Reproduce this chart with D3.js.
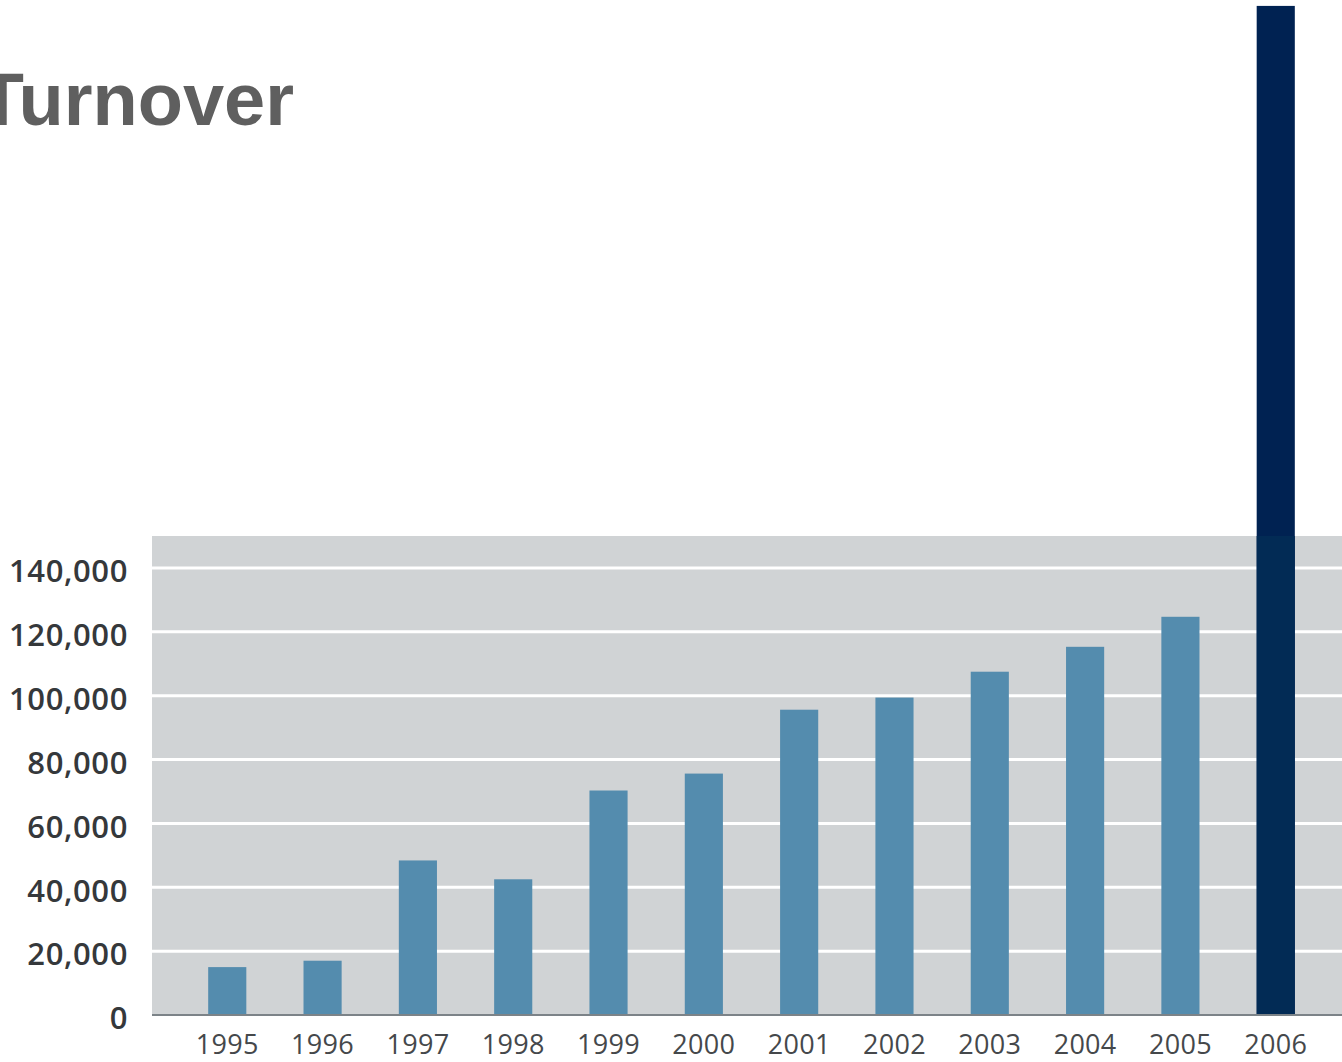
<!DOCTYPE html>
<html>
<head>
<meta charset="utf-8">
<script src="https://cdn.jsdelivr.net/npm/d3@7"></script>
<style>
  body { margin: 0; background: #fff; }
</style>
</head>
<body>
<div id="chart"></div>
<script>
const years = ['1995', '1996', '1997', '1998', '1999', '2000', '2001', '2002', '2003', '2004', '2005', '2006'];
const turnover = [15000, 17000, 48400, 42500, 70300, 75600, 95600, 99400, 107500, 115300, 124700, 316000];
const yTicks = [0, 20000, 40000, 60000, 80000, 100000, 120000, 140000];
const title = 'Turnover';

const w = 1342,
    h = 1062,
    plotLeft = 152,
    plotRight = w,
    plotTop = 536,
    plotBottom = 1015,
    bgcolor = '#d0d3d5',
    barcolor = '#548cae',
    highlight = '#002252';

const svg = d3.select('#chart').append('svg')
    .attr('width', w)
    .attr('height', h)
    .style('display', 'block');

const x = d3.scaleBand()
    .domain(years)
    .range([151, 1352])
    .paddingInner(0.6)
    .paddingOuter(0.6);

const y = d3.scaleLinear()
    .domain([0, 150000])
    .range([plotBottom, plotTop]);

// grey plot area
svg.append('rect')
    .attr('x', plotLeft)
    .attr('y', plotTop)
    .attr('width', plotRight - plotLeft)
    .attr('height', plotBottom - plotTop)
    .attr('fill', bgcolor);

// white gridlines
svg.append('g')
    .selectAll('line')
    .data(yTicks.filter(d => d > 0))
    .join('line')
    .attr('x1', plotLeft)
    .attr('x2', plotRight)
    .attr('y1', d => y(d))
    .attr('y2', d => y(d))
    .attr('stroke', '#fff')
    .attr('stroke-width', 3);

svg.append('clipPath')
    .attr('id', 'plot-clip')
    .append('rect')
    .attr('x', plotLeft)
    .attr('y', plotTop)
    .attr('width', plotRight - plotLeft)
    .attr('height', plotBottom - plotTop);

const last = years[years.length - 1];

// bars
svg.append('g')
    .selectAll('rect')
    .data(years)
    .join('rect')
    .attr('x', d => x(d))
    .attr('width', x.bandwidth())
    .attr('y', (d, i) => y(turnover[i]))
    .attr('height', (d, i) => y(0) - y(turnover[i]))
    .attr('fill', d => d === last ? highlight : barcolor);

// the tall bar looks a touch lighter where it crosses the grey area
svg.append('rect')
    .attr('clip-path', 'url(#plot-clip)')
    .attr('x', x(last))
    .attr('width', x.bandwidth())
    .attr('y', y(turnover[turnover.length - 1]))
    .attr('height', y(0) - y(turnover[turnover.length - 1]))
    .attr('fill', '#022b55');

// baseline
svg.append('line')
    .attr('x1', plotLeft)
    .attr('x2', plotRight)
    .attr('y1', y(0))
    .attr('y2', y(0))
    .attr('stroke', '#7c8388')
    .attr('stroke-width', 2);

// y axis labels
const yAxis = svg.append('g')
    .attr('transform', 'translate(128,0)')
    .call(d3.axisLeft(y).tickValues(yTicks).tickSize(0).tickPadding(0).tickFormat(d3.format(',')));
yAxis.select('.domain').remove();
yAxis.selectAll('text')
    .attr('dy', '0.38em')
    .attr('y', 2)
    .style('font-family', 'Open Sans')
    .style('font-weight', 600)
    .style('font-size', '31px')
    .style('letter-spacing', '0.6px')
    .attr('fill', '#35383b');

// x axis labels
const xAxis = svg.append('g')
    .attr('transform', 'translate(0,' + y(0) + ')')
    .call(d3.axisBottom(x).tickSize(0).tickPadding(0));
xAxis.select('.domain').remove();
xAxis.selectAll('text')
    .attr('y', 39)
    .attr('dy', 0)
    .style('font-family', 'Open Sans')
    .style('font-weight', 400)
    .style('font-size', '27px')
    .style('letter-spacing', '0.3px')
    .attr('fill', '#45484b');

// title, cut off at the left edge
svg.append('text')
    .attr('x', 294)
    .attr('y', 125)
    .attr('text-anchor', 'end')
    .style('font-family', 'Liberation Sans')
    .style('font-weight', 'bold')
    .style('font-size', '74px')
    .attr('fill', '#5f5f5f')
    .text(title);
</script>
</body>
</html>
